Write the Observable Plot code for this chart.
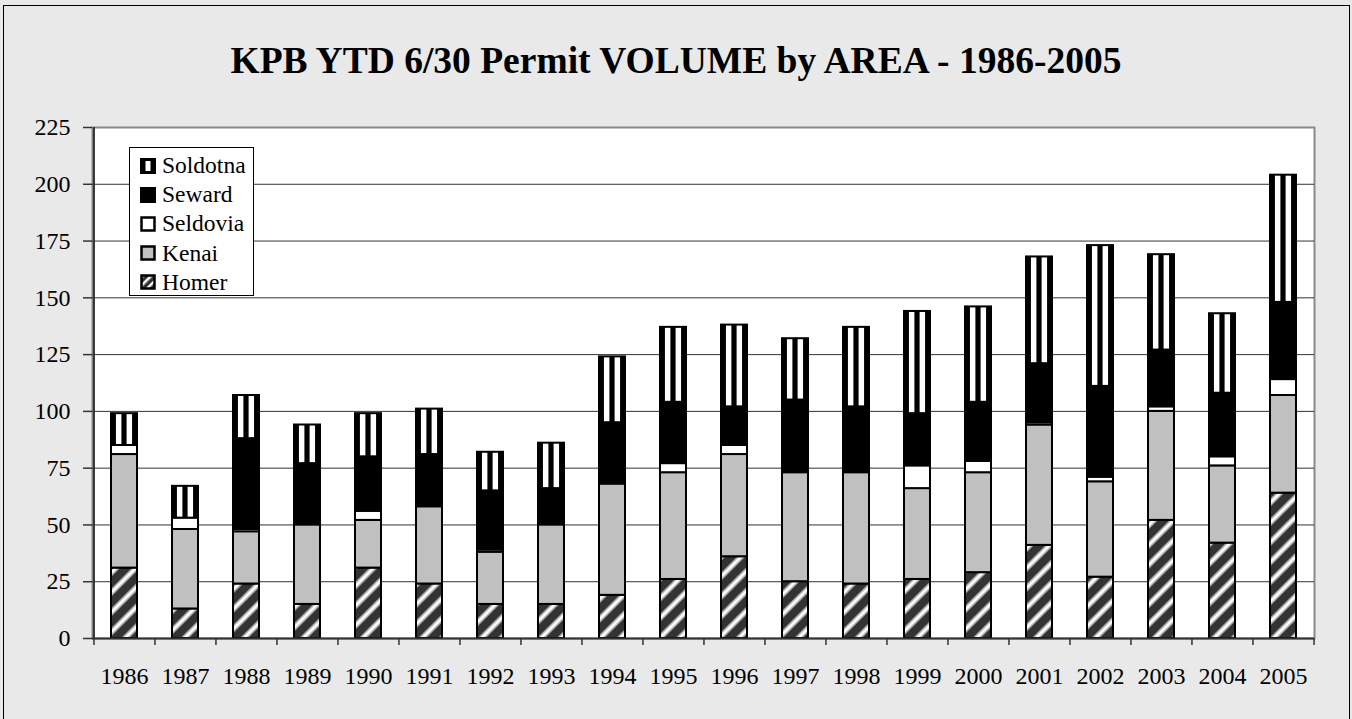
<!DOCTYPE html>
<html>
<head>
<meta charset="utf-8">
<script src="https://cdn.jsdelivr.net/npm/d3@7"></script>
<script src="https://cdn.jsdelivr.net/npm/@observablehq/plot@0.6"></script>
<style>
  html, body { margin: 0; padding: 0; background: #e9e9e9; }
  #wrap { position: relative; width: 1352px; height: 719px; overflow: hidden; background: #e9e9e9; font-family: "Liberation Serif", "Times New Roman", serif; }
  #wrap svg text { font-family: "Liberation Serif", "Times New Roman", serif; }
  #border { position: absolute; left: 3px; top: 5px; width: 1347px; height: 730px; border: 1.5px solid #000; box-sizing: border-box; }
  #title { position: absolute; left: 0; width: 1352px; top: 39px; text-align: center; font-weight: bold; font-size: 37.5px; line-height: 44px; color: #000; }
  #chart { position: absolute; left: 0; top: 100px; }
  #legend { position: absolute; left: 129px; top: 147px; width: 125px; height: 149px; box-sizing: border-box; background: #fff; border: 1px solid #000; padding-top: 3px; }
  .item { display: flex; align-items: center; height: 29.2px; font-size: 23.5px; }
  .item svg { margin-left: 10px; margin-right: 6px; }
</style>
</head>
<body>
<div id="wrap">
  <div id="border"></div>
  <div id="title">KPB YTD 6/30 Permit VOLUME by AREA - 1986-2005</div>
  <div id="chart"></div>
  <div id="legend"></div>
</div>
<script>
const years = ["1986","1987","1988","1989","1990","1991","1992","1993","1994","1995","1996","1997","1998","1999","2000","2001","2002","2003","2004","2005"];
const areas = ["Homer","Kenai","Seldovia","Seward","Soldotna"];
const homer    = [31,13,24,15,31,24,15,15,19,26,36,25,24,26,29,41,27,52,42,64];
const kenai    = [50,35,23,35,21,34,23,35,49,47,45,48,49,40,44,53,42,48,34,43];
const seldovia = [4, 5, 1, 0, 4, 0, 1, 0, 0, 4, 4, 0, 0, 10,5, 1, 2, 2, 4, 7];
const seward   = [0, 0, 40,27,24,23,26,16,27,27,17,32,29,23,26,26,40,25,28,34];
const soldotna = [14,14,19,17,19,20,17,20,29,33,36,27,35,45,42,47,62,42,35,56];
const yTicks = [0,25,50,75,100,125,150,175,200,225];

const seriesValues = {Homer: homer, Kenai: kenai, Seldovia: seldovia, Seward: seward, Soldotna: soldotna};
const data = [];
years.forEach((yr, i) => {
  areas.forEach(a => {
    const v = seriesValues[a][i];
    if (v > 0) data.push({year: yr, area: a, value: v});
  });
});

const W = 1352, H = 600;
const mL = 92, mR = 38, mT = 27, mB = 62;
const step = (W - mL - mR) / years.length;
const plotH = H - mT - mB;

const chart = Plot.plot({
  width: W,
  height: H,
  marginLeft: mL,
  marginRight: mR,
  marginTop: mT,
  marginBottom: mB,
  style: {fontFamily: "'Liberation Serif', 'Times New Roman', serif", background: "transparent", color: "#000"},
  x: {domain: years, paddingInner: 0.58, paddingOuter: 0.29, label: null},
  y: {domain: [0, 225], label: null},
  color: {
    domain: areas,
    range: ["url(#pHomer)", "#c0c0c0", "#ffffff", "#000000", "url(#pSoldotna)"]
  },
  marks: [
    Plot.frame({fill: "#fff", stroke: "#8a8a8a", strokeWidth: 2}),
    Plot.ruleY(yTicks.filter(t => t > 0 && t < 225), {stroke: "#333", strokeWidth: 1}),
    Plot.barY(data, {x: "year", y: "value", fill: "area", stroke: "#000", strokeWidth: 2, order: areas}),
    Plot.ruleY([0], {stroke: "#333", strokeWidth: 2}),
    Plot.tickX([years[0]], {x: d => d, dx: -step / 2, stroke: "#333", strokeWidth: 2}),
    Plot.tickX(years, {x: d => d, dx: -step / 2, stroke: "#333", strokeWidth: 1.5, insetTop: plotH, insetBottom: -7}),
    Plot.tickX([years[years.length - 1]], {x: d => d, dx: step / 2, stroke: "#333", strokeWidth: 1.5, insetTop: plotH, insetBottom: -7}),
    Plot.axisY({ticks: yTicks, tickSize: 9, tickPadding: 13, fontSize: 24, stroke: "#333", strokeWidth: 1.5, label: null}),
    Plot.axisX({tickSize: 0, tickPadding: 28, fontSize: 24, label: null})
  ]
});

const defs = `<defs>
  <pattern id="pHomer" patternUnits="userSpaceOnUse" width="14" height="14" patternTransform="rotate(45)">
    <rect x="0" y="0" width="14" height="14" fill="#333"/>
    <rect x="4" y="0" width="6" height="14" fill="#9a9a9a"/>
    <rect x="5.5" y="0" width="3" height="14" fill="#fff"/>
  </pattern>
  <pattern id="pSoldotna" patternUnits="objectBoundingBox" patternContentUnits="objectBoundingBox" width="1" height="1">
    <rect x="0" y="0" width="1" height="1" fill="#000"/>
    <rect x="0.19" y="0" width="0.21" height="1" fill="#fff"/>
    <rect x="0.6" y="0" width="0.21" height="1" fill="#fff"/>
  </pattern>
  <pattern id="lHomer" patternUnits="userSpaceOnUse" width="6" height="6" patternTransform="rotate(45)">
    <rect x="0" y="0" width="6" height="6" fill="#333"/>
    <rect x="2" y="0" width="2.5" height="6" fill="#fff"/>
  </pattern>
</defs>`;
chart.insertAdjacentHTML("afterbegin", defs);
document.getElementById("chart").appendChild(chart);

// Legend (top series first)
const swatch = {
  Soldotna: `<rect x="1" y="1" width="14" height="14" fill="#000" stroke="#000" stroke-width="2"/><rect x="5.5" y="3" width="5" height="10" fill="#fff"/>`,
  Seward: `<rect x="1" y="1" width="14" height="14" fill="#000" stroke="#000" stroke-width="2"/>`,
  Seldovia: `<rect x="1.5" y="1.5" width="13" height="13" fill="#fff" stroke="#000" stroke-width="2.5"/>`,
  Kenai: `<rect x="1.5" y="1.5" width="13" height="13" fill="#c0c0c0" stroke="#000" stroke-width="2.5"/>`,
  Homer: `<rect x="1.5" y="1.5" width="13" height="13" fill="url(#lHomer)" stroke="#000" stroke-width="2.5"/>`
};
const legend = document.getElementById("legend");
areas.slice().reverse().forEach(a => {
  const div = document.createElement("div");
  div.className = "item";
  div.innerHTML = `<svg width="16" height="16" viewBox="0 0 16 16">${swatch[a]}</svg><span>${a}</span>`;
  legend.appendChild(div);
});
</script>
</body>
</html>
